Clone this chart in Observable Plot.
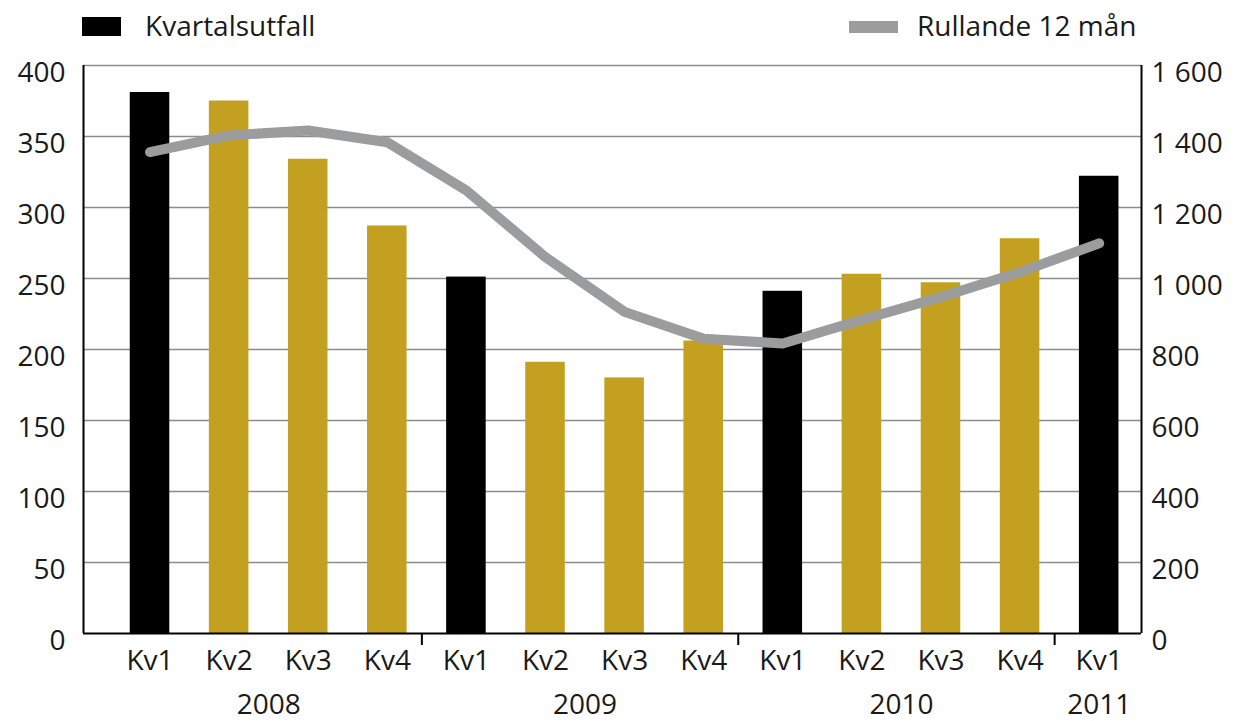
<!DOCTYPE html>
<html>
<head>
<meta charset="utf-8">
<script src="https://cdn.jsdelivr.net/npm/d3@7"></script>
<script src="https://cdn.jsdelivr.net/npm/@observablehq/plot@0.6"></script>
<style>
  html, body { margin: 0; padding: 0; background: #fff; }
  body { font-family: "Open Sans", sans-serif; color: #1a1a1a; width: 1234px; height: 721px; overflow: hidden; }
  #legend { position: relative; width: 1234px; height: 50px; }
  .sw { position: absolute; }
  .lt { position: absolute; font-size: 28px; line-height: 28px; white-space: nowrap; }
  #chart svg { display: block; }
</style>
</head>
<body>
<div id="legend"></div>
<div id="chart"></div>
<script>
// ---- Data ----
const quarters = ["Kv1","Kv2","Kv3","Kv4","Kv1","Kv2","Kv3","Kv4","Kv1","Kv2","Kv3","Kv4","Kv1"];
const quarterYears = [2008,2008,2008,2008,2009,2009,2009,2009,2010,2010,2010,2010,2011];
const years = [2008, 2009, 2010, 2011];
const kvartalsutfall = [381, 375, 334, 287, 251, 191, 180, 206, 241, 253, 247, 278, 322];
const rullande12 = [1356, 1403, 1417, 1384, 1248, 1060, 906, 830, 817, 884, 948, 1018, 1099];
const leftTicks = [0, 50, 100, 150, 200, 250, 300, 350, 400];
const rightTicks = [0, 200, 400, 600, 800, 1000, 1200, 1400, 1600];
const seriesNames = ["Kvartalsutfall", "Rullande 12 mån"];

// ---- Styles ----
const colKv1 = "#000000";
const colOther = "#C4A020";
const colLine = "#9B9C9E";
const colGrid = "#8c8c8c";
const ratio = 1600 / 400; // right axis / left axis

const data = quarters.map((q, i) => ({
  i, q, year: quarterYears[i], value: kvartalsutfall[i], roll: rullande12[i]
}));

// year centers & breaks derived from quarter indices
const yearCenter = years.map(y => d3.mean(data.filter(d => d.year === y), d => d.i));
const yearBreaks = years.slice(0, -1).map(y => d3.max(data.filter(d => d.year === y), d => d.i) + 0.5);

const fmtRight = n => n >= 1000 ? `${Math.floor(n / 1000)} ${String(n % 1000).padStart(3, "0")}` : String(n);

// ---- Legend (HTML, above the SVG) ----
const legend = document.getElementById("legend");
legend.innerHTML = `
  <div class="sw" style="left:82px;top:17px;width:39px;height:19px;background:${colKv1}"></div>
  <div class="lt" style="left:145px;top:11px">${seriesNames[0]}</div>
  <div class="sw" style="left:849px;top:21px;width:49px;height:12px;background:${colLine}"></div>
  <div class="lt" style="left:917px;top:11px">${seriesNames[1]}</div>
`;

// ---- Chart ----
const xDomain = [-0.841, 12.535];
const chart = Plot.plot({
  width: 1234,
  height: 671,
  marginTop: 15,
  marginBottom: 88,
  marginLeft: 83,
  marginRight: 93,
  style: { fontFamily: "'Open Sans', sans-serif", fontSize: "28px", color: "#1a1a1a", background: "#fff", overflow: "visible" },
  x: { domain: xDomain, axis: null },
  y: { domain: [0, 400], axis: null },
  marks: [
    Plot.ruleY(leftTicks.filter(t => t > 0), { stroke: colGrid, strokeWidth: 1.3 }),
    Plot.rectY(data, {
      x1: d => d.i - 0.25, x2: d => d.i + 0.25, y1: 0, y2: "value",
      fill: d => d.q === "Kv1" ? colKv1 : colOther
    }),
    Plot.line(data, {
      x: "i", y: d => d.roll / ratio,
      stroke: colLine, strokeWidth: 10, strokeLinecap: "round", strokeLinejoin: "round"
    }),
    Plot.ruleX([xDomain[0], xDomain[1]], { y1: 0, y2: 400, stroke: "#000", strokeWidth: 2 }),
    Plot.ruleY([0], { stroke: "#000", strokeWidth: 2 }),
    Plot.axisY({ anchor: "left", label: null, ticks: leftTicks, tickSize: 0, tickPadding: 18, dy: 8, tickFormat: d => String(d) }),
    Plot.axisY({ anchor: "right", label: null, ticks: rightTicks.map(t => t / ratio), tickSize: 0, tickPadding: 10, dy: 8, tickFormat: d => fmtRight(Math.round(d * ratio)) }),
    Plot.axisX({ anchor: "bottom", label: null, ticks: d3.range(quarters.length), tickSize: 0, tickPadding: 17, tickFormat: i => quarters[i] }),
    Plot.axisX({ anchor: "bottom", label: null, ticks: yearBreaks, tickSize: 12, dx: -5, stroke: "#000", strokeWidth: 2, tickFormat: () => "" }),
    Plot.axisX({ anchor: "bottom", label: null, ticks: yearCenter, tickSize: 0, tickPadding: 61, tickFormat: c => String(years[yearCenter.indexOf(c)]) })
  ]
});
document.getElementById("chart").appendChild(chart);
</script>
</body>
</html>
